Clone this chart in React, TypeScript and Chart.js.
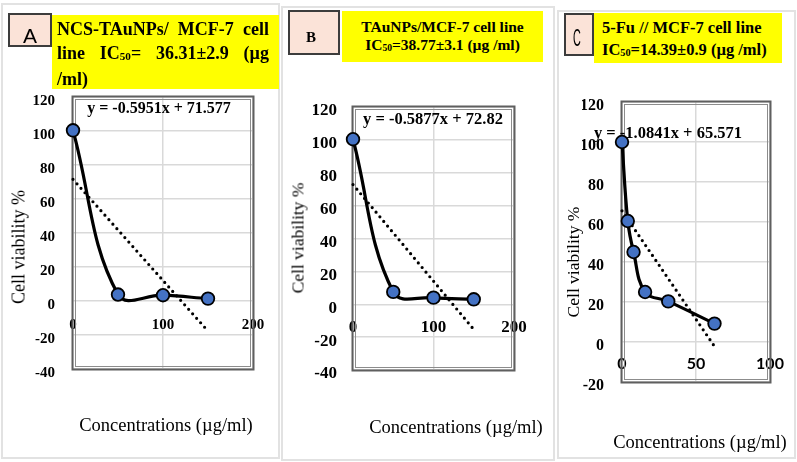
import React, { useEffect, useRef } from "react";
import { Chart, registerables } from "chart.js";

Chart.register(...registerables);

// ---- data ----
const concentrationsA = [0, 50, 100, 150];
const viabilityA = [100.4, 3.8, 3.4, 1.4];

const concentrationsB = [0, 50, 100, 150];
const viabilityB = [100.4, 7.5, 4, 3];

const concentrationsC = [0, 3.9, 7.8, 15.6, 31.25, 62.5];
const viabilityC = [100, 60.5, 45, 25, 20.3, 9.2];

// linear trendlines (y = slope * x + intercept)
const trendSlopes = [-0.5951, -0.5877, -1.0841];
const trendIntercepts = [71.577, 72.82, 65.571];

// axis ranges and tick steps
const xMaxValues = [200, 200, 100];
const xSteps = [100, 100, 50];
const yMinValues = [-40, -40, -20];
const yMaxValues = [120, 120, 120];
const yStep = 20;

// ---- styling / layout ----
const W = 797;
const H = 462;
const Y_AXIS_W = 40;
const SERIF = '"Liberation Serif", "Times New Roman", serif';
const SANS = 'Lato, "Liberation Sans", sans-serif';

type PanelLayout = {
  area: { left: number; top: number; right: number; bottom: number };
  yFont: number;
  yPad: number;
  xFont: number;
  xFamily: string;
  xPad: number;
};

const layouts: PanelLayout[] = [
  { area: { left: 73, top: 97, right: 253, bottom: 369 }, yFont: 15, yPad: 18, xFont: 15, xFamily: SERIF, xPad: 15 },
  { area: { left: 353, top: 107, right: 514, bottom: 370 }, yFont: 17, yPad: 16, xFont: 17, xFamily: SERIF, xPad: 13 },
  { area: { left: 622, top: 102, right: 770, bottom: 382 }, yFont: 16, yPad: 18, xFont: 16, xFamily: SANS, xPad: 12 },
];

const seriesData = [
  { conc: concentrationsA, viability: viabilityA },
  { conc: concentrationsB, viability: viabilityB },
  { conc: concentrationsC, viability: viabilityC },
];

// double-line frame round the plot area
const plotFrame = {
  id: "plotFrame",
  beforeDatasetsDraw(chart: any) {
    const { ctx, chartArea: a } = chart;
    ctx.save();
    ctx.lineWidth = 2;
    ctx.strokeStyle = "#5f5f5f";
    ctx.strokeRect(a.left - 0.5, a.top - 0.5, a.right - a.left + 1, a.bottom - a.top + 1);
    ctx.lineWidth = 1;
    ctx.strokeStyle = "#8c8c8c";
    ctx.strokeRect(a.left + 2.5, a.top + 2.5, a.right - a.left - 5, a.bottom - a.top - 5);
    ctx.restore();
  },
};

function buildChart(canvas: HTMLCanvasElement, i: number) {
  const lay = layouts[i];
  const { conc, viability } = seriesData[i];
  const points = conc.map((x, k) => ({ x, y: viability[k] }));
  const xEnd = Math.max(...conc);
  const trend = [0, xEnd].map((x) => ({ x, y: trendIntercepts[i] + trendSlopes[i] * x }));
  const gridColor = "#d9d9d9";

  return new Chart(canvas, {
    type: "scatter",
    data: {
      datasets: [
        {
          data: points,
          showLine: true,
          borderColor: "#000",
          borderWidth: 3.2,
          tension: 0.4,
          pointRadius: 6.3,
          pointBackgroundColor: "#4472c4",
          pointBorderColor: "#000",
          pointBorderWidth: 1.8,
          clip: false,
          order: 0,
        },
        {
          data: trend,
          showLine: true,
          borderColor: "#000",
          borderWidth: 3.2,
          borderDash: [0, 6],
          borderCapStyle: "round",
          pointRadius: 0,
          clip: false,
          order: 1,
        },
      ],
    },
    options: {
      responsive: false,
      animation: false,
      events: [],
      layout: {
        padding: {
          left: lay.area.left - Y_AXIS_W,
          right: W - lay.area.right,
          top: lay.area.top,
          bottom: H - lay.area.bottom,
        },
      },
      plugins: { legend: { display: false }, tooltip: { enabled: false } },
      scales: {
        x: {
          type: "linear",
          position: { y: 0 },
          min: 0,
          max: xMaxValues[i],
          ticks: {
            stepSize: xSteps[i],
            padding: lay.xPad,
            color: "#000",
            font: { family: lay.xFamily, size: lay.xFont, weight: "bold" },
          },
          grid: { color: gridColor, lineWidth: 1.5, drawTicks: false },
          border: { display: false },
        },
        y: {
          type: "linear",
          position: "left",
          min: yMinValues[i],
          max: yMaxValues[i],
          ticks: {
            stepSize: yStep,
            padding: lay.yPad,
            labelOffset: 4,
            color: "#000",
            font: { family: SERIF, size: lay.yFont, weight: "bold" },
          },
          grid: { color: gridColor, lineWidth: 1.5, drawTicks: false },
          border: { display: false },
          afterFit(scale: any) {
            scale.width = Y_AXIS_W;
          },
        },
      },
    } as any,
    plugins: [plotFrame],
  });
}

const abs = (s: React.CSSProperties): React.CSSProperties => ({ position: "absolute", ...s });
const centered = (x: number, y: number, s: React.CSSProperties = {}): React.CSSProperties =>
  abs({ left: x, top: y, transform: "translate(-50%, -50%)", whiteSpace: "nowrap", ...s });
const rotated = (x: number, y: number, s: React.CSSProperties = {}): React.CSSProperties =>
  abs({ left: x, top: y, transform: "translate(-50%, -50%) rotate(-90deg)", whiteSpace: "nowrap", ...s });

const Sub = ({ children }: { children: React.ReactNode }) => (
  <span style={{ fontSize: "0.62em", verticalAlign: "-0.12em" }}>{children}</span>
);

const eqText = (i: number) => `y = ${trendSlopes[i]}x + ${trendIntercepts[i]}`;

export default function App() {
  const refA = useRef<HTMLCanvasElement>(null);
  const refB = useRef<HTMLCanvasElement>(null);
  const refC = useRef<HTMLCanvasElement>(null);

  useEffect(() => {
    const charts = [refA, refB, refC].map((r, i) => buildChart(r.current as HTMLCanvasElement, i));
    return () => charts.forEach((c) => c.destroy());
  }, []);

  const panelBorder = "2px solid #e2e2e2";
  const labelBox: React.CSSProperties = {
    background: "#fbe3d8",
    border: "2px solid #3c3c3c",
    boxSizing: "border-box",
  };
  const yellow = "#ffff00";
  const titleFont = { fontFamily: SERIF, fontWeight: 700 as const, color: "#000" };
  const axisTitle = { fontFamily: SERIF, fontSize: 18, color: "#000" };
  const eqFont = { fontFamily: SERIF, fontWeight: 700 as const, color: "#000" };

  return (
    <div style={abs({ left: 0, top: 0, width: W, height: H, overflow: "hidden", background: "#fff" })}>
      {/* panel outlines */}
      <div style={abs({ left: 1, top: 3, width: 279, height: 456, border: panelBorder, boxSizing: "border-box" })} />
      <div style={abs({ left: 281, top: 6, width: 274, height: 455, border: panelBorder, boxSizing: "border-box" })} />
      <div style={abs({ left: 557, top: 10, width: 239, height: 449, border: panelBorder, boxSizing: "border-box" })} />

      <canvas ref={refA} width={W} height={H} style={abs({ left: 0, top: 0, width: W, height: H })} />
      <canvas ref={refB} width={W} height={H} style={abs({ left: 0, top: 0, width: W, height: H })} />
      <canvas ref={refC} width={W} height={H} style={abs({ left: 0, top: 0, width: W, height: H })} />

      {/* panel A header */}
      <div style={abs({ left: 8, top: 13, width: 44, height: 34, ...labelBox })} />
      <div style={centered(30, 36, { fontFamily: '"Liberation Sans", sans-serif', fontSize: 21, color: "#000" })}>A</div>
      <div
        style={abs({
          left: 52, top: 15, width: 227, height: 74, background: yellow, boxSizing: "border-box",
          padding: "3px 10px 0 5px", fontSize: 18, lineHeight: "23.5px", ...titleFont,
        })}
      >
        <div style={{ textAlign: "justify", textAlignLast: "justify" }}>NCS-TAuNPs/ MCF-7 cell</div>
        <div style={{ textAlign: "justify", textAlignLast: "justify" }}>
          line IC<Sub>50</Sub>= 36.31±2.9 (µg
        </div>
        <div>/ml)</div>
      </div>

      {/* panel B header */}
      <div style={abs({ left: 288, top: 10, width: 52, height: 45, ...labelBox })} />
      <div style={centered(311, 37, { fontFamily: SERIF, fontWeight: 700, fontSize: 15, color: "#000" })}>B</div>
      <div
        style={abs({
          left: 342, top: 11, width: 201, height: 51, background: yellow, boxSizing: "border-box",
          paddingTop: 7, textAlign: "center", fontSize: 15.5, lineHeight: "18px", ...titleFont,
        })}
      >
        <div>TAuNPs/MCF-7 cell line</div>
        <div>
          IC<Sub>50</Sub>=38.77±3.1 (µg /ml)
        </div>
      </div>

      {/* panel C header */}
      <div style={abs({ left: 564, top: 13, width: 30, height: 43, ...labelBox })} />
      <div
        style={centered(577, 38, {
          fontFamily: '"Liberation Sans", sans-serif', fontSize: 24, color: "#000",
          transform: "translate(-50%, -50%) scaleX(0.45)",
        })}
      >
        C
      </div>
      <div
        style={abs({
          left: 594, top: 13, width: 188, height: 50, background: yellow, boxSizing: "border-box",
          padding: "4px 0 0 8px", fontSize: 16.5, lineHeight: "22px", ...titleFont,
        })}
      >
        <div>5-Fu // MCF-7 cell line</div>
        <div>
          IC<Sub>50</Sub>=14.39±0.9 (µg /ml)
        </div>
      </div>

      {/* trendline equations */}
      <div style={centered(159, 108, { ...eqFont, fontSize: 16 })}>{eqText(0)}</div>
      <div style={centered(433, 119, { ...eqFont, fontSize: 16.5 })}>{eqText(1)}</div>
      <div style={centered(668, 132.5, { ...eqFont, fontSize: 16.5 })}>{eqText(2)}</div>

      {/* axis titles */}
      <div style={rotated(18.5, 247, axisTitle)}>Cell viability %</div>
      <div style={rotated(297.5, 238, { ...axisTitle, fontSize: 17.5 })}>Cell viability %</div>
      <div style={rotated(573, 262, { ...axisTitle, fontSize: 17.5 })}>Cell viability %</div>

      <div style={centered(166, 425, { ...axisTitle, fontSize: 18.5 })}>Concentrations (µg/ml)</div>
      <div style={centered(456, 427, { ...axisTitle, fontSize: 18.5 })}>Concentrations (µg/ml)</div>
      <div style={centered(700, 442, { ...axisTitle, fontSize: 18.5 })}>Concentrations (µg/ml)</div>
    </div>
  );
}
